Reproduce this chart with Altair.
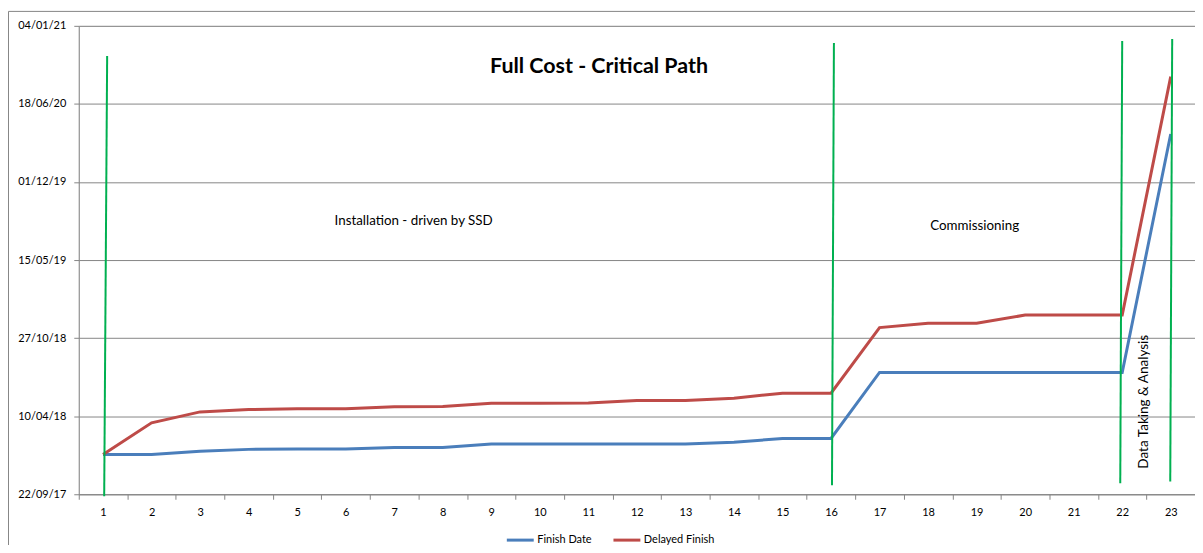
import altair as alt
import pandas as pd

# ---- data ----
categories = list(range(1, 24))
finish_date = ["2018-01-02", "2018-01-02", "2018-01-10", "2018-01-15", "2018-01-16", "2018-01-16",
               "2018-01-20", "2018-01-20", "2018-01-29", "2018-01-29", "2018-01-29", "2018-01-29",
               "2018-01-29", "2018-02-02", "2018-02-12", "2018-02-12", "2018-07-31", "2018-07-31",
               "2018-07-31", "2018-07-31", "2018-07-31", "2018-07-31", "2020-04-02"]
delayed_finish = ["2018-01-02", "2018-03-24", "2018-04-21", "2018-04-27", "2018-04-29", "2018-04-29",
                  "2018-05-04", "2018-05-05", "2018-05-13", "2018-05-13", "2018-05-14", "2018-05-20",
                  "2018-05-20", "2018-05-26", "2018-06-08", "2018-06-08", "2018-11-23", "2018-12-04",
                  "2018-12-04", "2018-12-25", "2018-12-25", "2018-12-25", "2020-08-27"]
series_names = ["Finish Date", "Delayed Finish"]
series_colors = ["#4A7EBB", "#BE4B48"]

# phase separator lines (hand drawn, slightly slanted)
phase_x_top = [1.085, 16.06, 22.0, 23.03]
phase_x_bottom = [1.024, 16.02, 21.96, 22.99]
phase_date_top = ["2020-10-19", "2020-11-21", "2020-11-26", "2020-12-01"]
phase_date_bottom = ["2017-09-17", "2017-10-15", "2017-10-20", "2017-10-25"]

# phase labels
label_text = ["Installation - driven by SSD", "Commissioning"]
label_x = [7.4, 18.96]
label_date = ["2019-08-24", "2019-08-11"]
vlabel_text = ["Data Taking & Analysis"]
vlabel_x = [22.45]
vlabel_date = ["2018-05-17"]

title_text = ["Full Cost - Critical Path"]
title_x = [11.22]
title_date = ["2020-09-20"]

y_tick_dates = ["2017-09-22", "2018-04-10", "2018-10-27", "2019-05-15",
                "2019-12-01", "2020-06-18", "2021-01-04"]
x_tick_positions = [c - 0.5 for c in categories] + [categories[-1] + 0.5]

FONT = "Lato"
AXIS_GREY = "#868686"

# ---- tables ----
lines_df = pd.DataFrame({
    "cat": categories * 2,
    "date": finish_date + delayed_finish,
    "series": [series_names[0]] * len(categories) + [series_names[1]] * len(categories),
})
phase_df = pd.DataFrame({"x": phase_x_bottom, "x2": phase_x_top,
                         "d": phase_date_bottom, "d2": phase_date_top})
label_df = pd.DataFrame({"t": label_text, "x": label_x, "d": label_date})
vlabel_df = pd.DataFrame({"t": vlabel_text, "x": vlabel_x, "d": vlabel_date})
title_df = pd.DataFrame({"t": title_text, "x": title_x, "d": title_date})

def dt(s):
    y, m, d = (int(v) for v in s.split("-"))
    return alt.DateTime(year=y, month=m, date=d, utc=True)

x_scale = alt.Scale(domain=[0.5, 23.5], nice=False, zero=False)
y_scale = alt.Scale(type="utc", domain=[dt(y_tick_dates[0]), dt(y_tick_dates[-1])], nice=False)

x_axis = alt.Axis(values=x_tick_positions, labelExpr="datum.value < 23 ? toString(datum.value + 0.5) : ''",
                  labelOffset=24.35, labelFlush=False, labelOverlap=False, labelBound=False,
                  grid=False, title=None, tickSize=5, tickColor=AXIS_GREY, domainColor=AXIS_GREY,
                  labelFont=FONT, labelFontSize=11, labelColor="#000000", labelPadding=7)
y_axis = alt.Axis(values=[dt(s) for s in y_tick_dates], format="%d/%m/%y", title=None,
                  grid=True, gridColor=AXIS_GREY, tickSize=5, tickColor=AXIS_GREY,
                  domainColor=AXIS_GREY, labelFont=FONT, labelFontSize=11, labelColor="#000000",
                  labelPadding=8, labelOverlap=False, labelFlush=False)

lines = alt.Chart(lines_df).mark_line(strokeWidth=3).encode(
    x=alt.X("cat:Q", scale=x_scale, axis=x_axis),
    y=alt.Y("date:T", scale=y_scale, axis=y_axis),
    color=alt.Color("series:N", scale=alt.Scale(domain=series_names, range=series_colors),
                    legend=alt.Legend(title=None, orient="none", direction="horizontal",
                                      legendX=428, legendY=501, symbolType="stroke",
                                      symbolSize=729, symbolStrokeWidth=3, labelFont=FONT,
                                      labelFontSize=11, labelColor="#000000", labelOffset=2,
                                      columnPadding=15)),
    order="cat:Q",
)

phases = alt.Chart(phase_df).mark_rule(color="#00B050", strokeWidth=2).encode(
    x=alt.X("x:Q", scale=x_scale), x2="x2:Q",
    y=alt.Y("d:T", scale=y_scale), y2="d2:T",
)

labels = alt.Chart(label_df).mark_text(font=FONT, fontSize=13.4, color="#000000").encode(
    x=alt.X("x:Q", scale=x_scale), y=alt.Y("d:T", scale=y_scale), text="t:N")

vlabels = alt.Chart(vlabel_df).mark_text(font=FONT, fontSize=13.6, color="#000000", angle=270).encode(
    x=alt.X("x:Q", scale=x_scale), y=alt.Y("d:T", scale=y_scale), text="t:N")

title = alt.Chart(title_df).mark_text(font=FONT, fontSize=21.5, fontWeight="bold", color="#000000").encode(
    x=alt.X("x:Q", scale=x_scale), y=alt.Y("d:T", scale=y_scale), text="t:N")

border_top = alt.Chart(title_df).mark_rule(color=AXIS_GREY, strokeWidth=1).encode(
    x=alt.value(-70.5), x2=alt.value(1125), y=alt.value(-14.5))
border_left = alt.Chart(title_df).mark_rule(color=AXIS_GREY, strokeWidth=1).encode(
    x=alt.value(-70.5), y=alt.value(-14.5), y2=alt.value(540))

chart = alt.layer(lines, phases, labels, vlabels, title, border_top, border_left).properties(
    width=1120, height=470,
    autosize=alt.AutoSizeParams(type="none"),
    padding={"left": 71, "top": 17, "right": 0, "bottom": 50},
).configure_view(stroke=None).configure(background="#ffffff")

chart.save("out.html", embed_options={"renderer": "svg", "actions": False})
